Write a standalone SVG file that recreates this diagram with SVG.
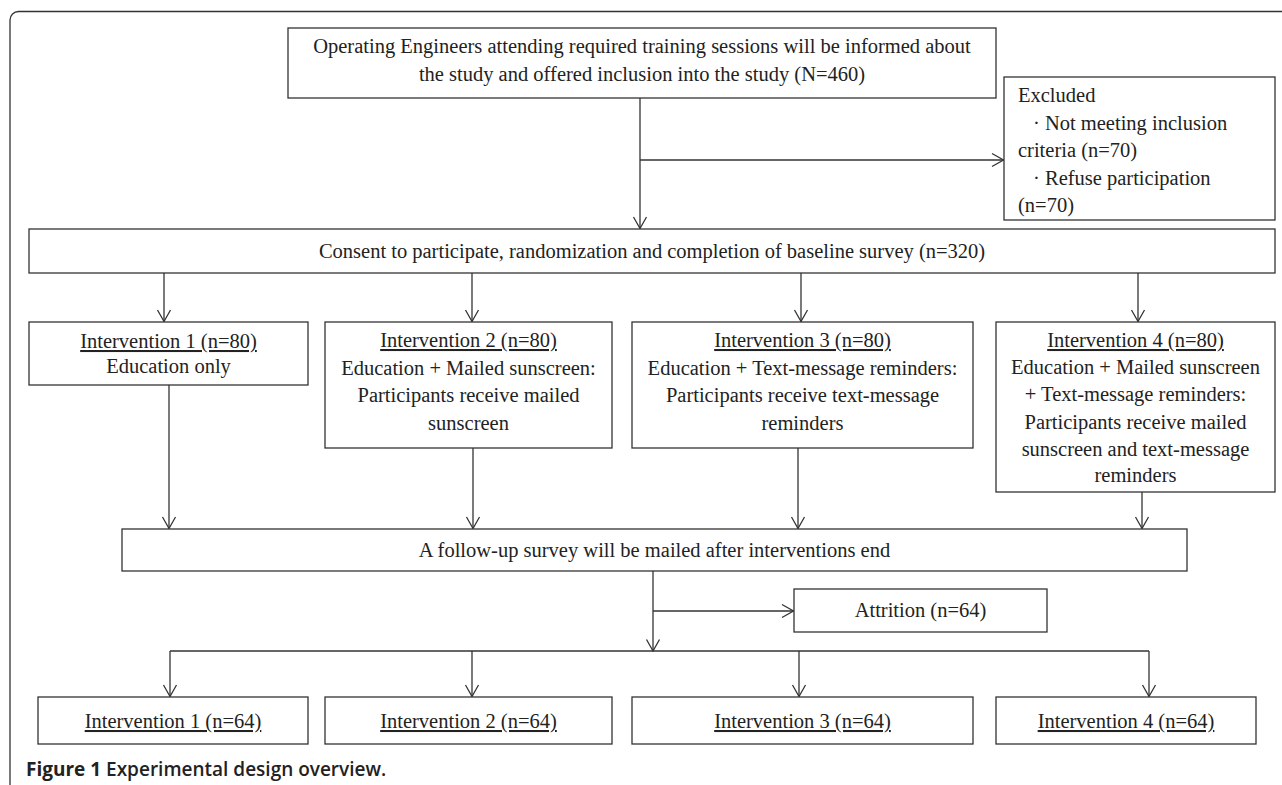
<svg xmlns="http://www.w3.org/2000/svg" width="1282" height="785" viewBox="0 0 1282 785">
<defs>
<style>
.box{fill:#fff;stroke:#333;stroke-width:1.3}
.t{font-family:"Liberation Serif","Times New Roman",serif;font-size:20.5px;fill:#222}
.c{text-anchor:middle}
.u{text-decoration:underline}
.ln{fill:none;stroke:#333;stroke-width:1.3}
.cap{font-family:"Open Sans","Noto Sans","Liberation Sans",sans-serif;font-weight:bold;font-size:19px;fill:#222}
</style>
<marker id="ah" markerUnits="userSpaceOnUse" markerWidth="16" markerHeight="16" viewBox="-13 -8 15 16" refX="0" refY="0" orient="auto">
<path d="M-11.5,-6.5 L0,0 L-11.5,6.5" fill="none" stroke="#333" stroke-width="1.3"/>
</marker>
</defs>
<rect width="1282" height="785" fill="#fff"/>
<path d="M10,785 V20 A8.5,8.5 0 0 1 18.5,11.5 H1282" fill="none" stroke="#333" stroke-width="1.3"/>

<g id="connectors">
<path class="ln" d="M640,98 V228.5" marker-end="url(#ah)"/>
<path class="ln" d="M640,160 H1003.5" marker-end="url(#ah)"/>
<path class="ln" d="M164,273 V321.5" marker-end="url(#ah)"/>
<path class="ln" d="M472,273 V321.5" marker-end="url(#ah)"/>
<path class="ln" d="M801,273 V321.5" marker-end="url(#ah)"/>
<path class="ln" d="M1138,273 V321.5" marker-end="url(#ah)"/>
<path class="ln" d="M169,385 V528.5" marker-end="url(#ah)"/>
<path class="ln" d="M473,448 V528.5" marker-end="url(#ah)"/>
<path class="ln" d="M798,448 V528.5" marker-end="url(#ah)"/>
<path class="ln" d="M1142,492 V528.5" marker-end="url(#ah)"/>
<path class="ln" d="M653,571 V651" marker-end="url(#ah)"/>
<path class="ln" d="M653,611 H793.5" marker-end="url(#ah)"/>
<path class="ln" d="M170,651 H1149"/>
<path class="ln" d="M170,651 V696.5" marker-end="url(#ah)"/>
<path class="ln" d="M472,651 V696.5" marker-end="url(#ah)"/>
<path class="ln" d="M799,651 V696.5" marker-end="url(#ah)"/>
<path class="ln" d="M1149,651 V696.5" marker-end="url(#ah)"/>
</g>

<g id="n-start">
<rect class="box" x="288" y="28" width="708" height="70"/>
<text class="t c" x="642" y="53">Operating Engineers attending required training sessions will be informed about</text>
<text class="t c" x="642" y="81">the study and offered inclusion into the study (N=460)</text>
</g>

<g id="n-excluded">
<rect class="box" x="1004" y="77" width="271" height="143"/>
<text class="t" x="1018" y="102">Excluded</text>
<text class="t" x="1033" y="129.5">· Not meeting inclusion</text>
<text class="t" x="1018" y="157">criteria (n=70)</text>
<text class="t" x="1033" y="184.5">· Refuse participation</text>
<text class="t" x="1018" y="212">(n=70)</text>
</g>

<g id="n-consent">
<rect class="box" x="29" y="229" width="1246" height="44"/>
<text class="t c" x="652" y="258">Consent to participate, randomization and completion of baseline survey (n=320)</text>
</g>

<g id="n-int1">
<rect class="box" x="29" y="322" width="279" height="63"/>
<text class="t c u" x="168.5" y="348">Intervention 1 (n=80)</text>
<text class="t c" x="168.5" y="373">Education only</text>
</g>

<g id="n-int2">
<rect class="box" x="325" y="322" width="287" height="126"/>
<text class="t c u" x="468.5" y="347">Intervention 2 (n=80)</text>
<text class="t c" x="468.5" y="374.5">Education + Mailed sunscreen:</text>
<text class="t c" x="468.5" y="402">Participants receive mailed</text>
<text class="t c" x="468.5" y="429.5">sunscreen</text>
</g>

<g id="n-int3">
<rect class="box" x="632" y="322" width="341" height="126"/>
<text class="t c u" x="802.5" y="347">Intervention 3 (n=80)</text>
<text class="t c" x="802.5" y="374.5">Education + Text-message reminders:</text>
<text class="t c" x="802.5" y="402">Participants receive text-message</text>
<text class="t c" x="802.5" y="429.5">reminders</text>
</g>

<g id="n-int4">
<rect class="box" x="996" y="322" width="279" height="170"/>
<text class="t c u" x="1135.5" y="347">Intervention 4 (n=80)</text>
<text class="t c" x="1135.5" y="374.2">Education + Mailed sunscreen</text>
<text class="t c" x="1135.5" y="401.4">+ Text-message reminders:</text>
<text class="t c" x="1135.5" y="428.6">Participants receive mailed</text>
<text class="t c" x="1135.5" y="455.8">sunscreen and text-message</text>
<text class="t c" x="1135.5" y="482">reminders</text>
</g>

<g id="n-followup">
<rect class="box" x="122" y="529" width="1065" height="42"/>
<text class="t c" x="654.5" y="557">A follow-up survey will be mailed after interventions end</text>
</g>

<g id="n-attrition">
<rect class="box" x="794" y="589" width="253" height="43"/>
<text class="t c" x="920.5" y="616.5">Attrition (n=64)</text>
</g>

<g id="n-out1">
<rect class="box" x="38" y="697" width="270" height="47"/>
<text class="t c u" x="173" y="728">Intervention 1 (n=64)</text>
</g>
<g id="n-out2">
<rect class="box" x="325" y="697" width="287" height="47"/>
<text class="t c u" x="468.5" y="728">Intervention 2 (n=64)</text>
</g>
<g id="n-out3">
<rect class="box" x="632" y="697" width="341" height="47"/>
<text class="t c u" x="802.5" y="728">Intervention 3 (n=64)</text>
</g>
<g id="n-out4">
<rect class="box" x="996" y="697" width="260" height="47"/>
<text class="t c u" x="1126" y="728">Intervention 4 (n=64)</text>
</g>

<text class="cap" x="26" y="776">Figure 1 <tspan font-weight="600">Experimental design overview.</tspan></text>
</svg>
